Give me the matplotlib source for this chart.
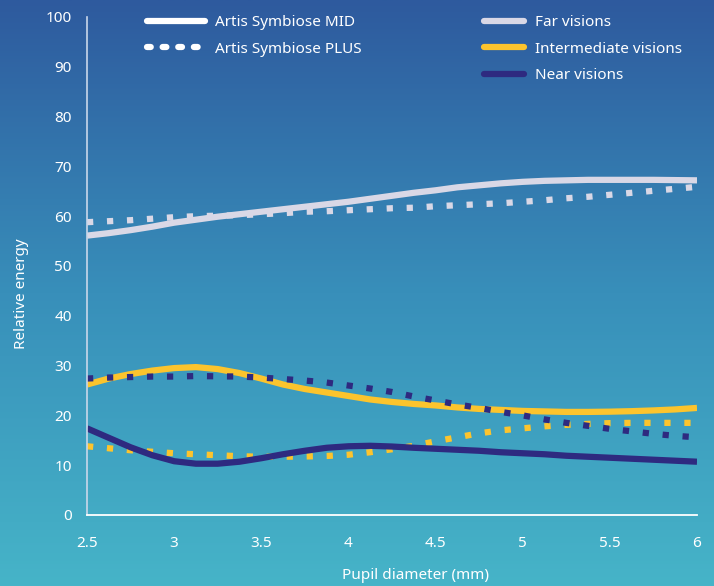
import numpy as np
import matplotlib
matplotlib.use("Agg")
import matplotlib.pyplot as plt
from matplotlib.lines import Line2D

plt.rcParams['font.family'] = ['Noto Sans', 'DejaVu Sans']

pupil = [2.5, 2.625, 2.75, 2.875, 3.0, 3.125, 3.25, 3.375, 3.5, 3.625, 3.75, 3.875, 4.0,
         4.125, 4.25, 4.375, 4.5, 4.625, 4.75, 4.875, 5.0, 5.125, 5.25, 5.375, 5.5,
         5.625, 5.75, 5.875, 6.0]

far_mid = [56.1, 56.6, 57.2, 57.9, 58.7, 59.3, 59.9, 60.4, 60.9, 61.4, 61.9, 62.4, 62.9,
           63.5, 64.1, 64.7, 65.2, 65.8, 66.2, 66.6, 66.9, 67.1, 67.2, 67.3, 67.3,
           67.3, 67.3, 67.25, 67.2]
far_plus = [58.8, 59.0, 59.2, 59.5, 59.8, 60.0, 60.1, 60.2, 60.4, 60.6, 60.9, 61.0, 61.2,
            61.4, 61.6, 61.7, 62.0, 62.2, 62.4, 62.6, 62.9, 63.2, 63.6, 63.9, 64.3,
            64.7, 65.1, 65.5, 65.9]
int_mid = [26.2, 27.4, 28.3, 29.0, 29.5, 29.7, 29.3, 28.5, 27.4, 26.2, 25.3, 24.6, 23.9,
           23.2, 22.7, 22.3, 22.0, 21.6, 21.3, 21.1, 20.9, 20.8, 20.7, 20.7, 20.75,
           20.85, 21.0, 21.2, 21.5]
int_plus = [13.8, 13.4, 13.0, 12.7, 12.4, 12.2, 12.0, 11.8, 11.7, 11.7, 11.75, 11.85, 12.1,
            12.6, 13.2, 13.9, 14.8, 15.6, 16.4, 17.0, 17.4, 17.8, 18.1, 18.3, 18.45,
            18.5, 18.5, 18.5, 18.5]
near_mid = [17.4, 15.5, 13.6, 12.0, 10.8, 10.3, 10.3, 10.7, 11.4, 12.2, 12.9, 13.5, 13.8,
            13.9, 13.75, 13.5, 13.3, 13.1, 12.9, 12.6, 12.4, 12.2, 11.9, 11.7, 11.5,
            11.3, 11.1, 10.9, 10.7]
near_plus = [27.4, 27.6, 27.7, 27.8, 27.8, 27.9, 27.85, 27.8, 27.6, 27.3, 27.0, 26.6, 26.0,
             25.4, 24.7, 23.8, 23.0, 22.2, 21.5, 20.7, 20.0, 19.2, 18.5, 17.9, 17.3,
             16.8, 16.3, 15.9, 15.6]

x_ticks = [2.5, 3, 3.5, 4, 4.5, 5, 5.5, 6]
x_tick_labels = ["2.5", "3", "3.5", "4", "4.5", "5", "5.5", "6"]
y_ticks = list(range(0, 101, 10))

C_FAR = "#d9d8e6"
C_INT = "#fcc42d"
C_NEAR = "#2e2a80"

fig = plt.figure(figsize=(7.14, 5.86), dpi=100)

# background gradient
bg = fig.add_axes([0, 0, 1, 1])
top = np.array([46, 90, 158]) / 255
mid = np.array([56, 143, 186]) / 255
bot = np.array([70, 180, 200]) / 255
t = np.linspace(0, 1, 300)[:, None]
grad = np.where(t < 0.5, top + (mid - top) * (t / 0.5), mid + (bot - mid) * ((t - 0.5) / 0.5))
bg.imshow(grad[:, None, :], aspect='auto', extent=[0, 1, 0, 1])
bg.axis('off')

ax = fig.add_axes([87 / 714, 1 - 515 / 586, 610 / 714, 498 / 586])
ax.patch.set_alpha(0)

lw = 4.5
dot = (0, (1, 2.2))
ax.plot(pupil, far_mid, color=C_FAR, lw=lw, solid_capstyle='butt')
ax.plot(pupil, far_plus, color=C_FAR, lw=lw, linestyle=dot, dash_capstyle='butt')
ax.plot(pupil, int_mid, color=C_INT, lw=lw, solid_capstyle='butt')
ax.plot(pupil, int_plus, color=C_INT, lw=lw, linestyle=dot, dash_capstyle='butt')
ax.plot(pupil, near_mid, color=C_NEAR, lw=lw, solid_capstyle='butt')
ax.plot(pupil, near_plus, color=C_NEAR, lw=lw, linestyle=dot, dash_capstyle='butt')

ax.set_xlim(2.5, 6)
ax.set_ylim(0, 100)
ax.set_xticks(x_ticks)
ax.set_xticklabels(x_tick_labels)
ax.set_yticks(y_ticks)
ax.tick_params(length=0, colors='white', labelsize=11)
ax.tick_params(axis='y', pad=11)
ax.tick_params(axis='x', pad=15)
for s in ['top', 'right']:
    ax.spines[s].set_visible(False)
ax.spines['left'].set_color('#c9d7ea')
ax.spines['left'].set_linewidth(1.2)
ax.spines['bottom'].set_color('white')
ax.spines['bottom'].set_linewidth(1.3)

ax.set_xlabel("Pupil diameter (mm)", color='white', fontsize=11)
ax.set_ylabel("Relative energy", color='white', fontsize=11)
ax.xaxis.set_label_coords((415 - 87) / 610, (515 - 568) / 498)
ax.yaxis.set_label_coords((29 - 87) / 610, (515 - 294) / 498)

h1 = [Line2D([0], [0], color='white', lw=4.5, solid_capstyle='round'),
      Line2D([0], [0], color='white', lw=4.5, linestyle=(0, (0.6, 1.9)), dash_capstyle='round')]
leg1 = ax.legend(h1, ["Artis Symbiose MID", "Artis Symbiose PLUS"], loc='upper left',
                 bbox_to_anchor=((141 - 87) / 610, 1.0 + 8 / 498), frameon=False,
                 fontsize=11, labelcolor='white', handlelength=3.8, handletextpad=0.65,
                 labelspacing=0.76, borderaxespad=0)
ax.add_artist(leg1)

h2 = [Line2D([0], [0], color=C_FAR, lw=4.5, solid_capstyle='round'),
      Line2D([0], [0], color=C_INT, lw=4.5, solid_capstyle='round'),
      Line2D([0], [0], color=C_NEAR, lw=4.5, solid_capstyle='round')]
leg2 = ax.legend(h2, ["Far visions", "Intermediate visions", "Near visions"], loc='upper left',
                 bbox_to_anchor=((478 - 87) / 610, 1.0 + 8 / 498), frameon=False,
                 fontsize=11, labelcolor='white', handlelength=2.6, handletextpad=0.75,
                 labelspacing=0.76, borderaxespad=0)

fig.savefig("out.png", dpi=100)
